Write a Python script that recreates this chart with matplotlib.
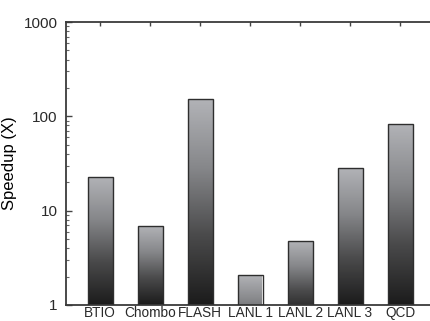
import numpy as np
import matplotlib
matplotlib.use("Agg")
import matplotlib.pyplot as plt
from matplotlib.colors import LinearSegmentedColormap

apps = ["BTIO", "Chombo", "FLASH", "LANL 1", "LANL 2", "LANL 3", "QCD"]
speedup = [22.8, 6.9, 151, 2.07, 4.75, 28.4, 83]

plt.rcParams['font.family'] = ['Liberation Sans', 'DejaVu Sans']
plt.rcParams['text.color'] = '#2a2a2a'
plt.rcParams['xtick.labelcolor'] = '#2a2a2a'
plt.rcParams['ytick.labelcolor'] = '#2a2a2a'

fig = plt.figure(figsize=(4.30, 3.21), dpi=100)
ax = fig.add_axes([66 / 430, 16 / 321, 364 / 430, 283 / 321])
ax.set_yscale('log')

# gradient bars: light at top, dark toward the bottom
cmap = LinearSegmentedColormap.from_list('g', ['#b2b3b7', '#86878a', '#4a4a4b', '#1c1c1c'])
width = 0.5
x = np.arange(len(apps))
heights = [v - 1 for v in speedup]
bars = ax.bar(x, heights, width=width, bottom=1, facecolor='none',
              edgecolor='#2e2e2e', linewidth=1.0, zorder=3)
for xi, v, b in zip(x, speedup, bars):
    top = np.log10(v)
    ys = np.linspace(1, v, 3000)
    depth = (top - np.log10(ys)) / max(top, 0.8)
    img = depth[::-1].reshape(-1, 1)
    im = ax.imshow(img, cmap=cmap, vmin=0, vmax=1, aspect='auto',
                   extent=(xi - width / 2, xi + width / 2, 1, v),
                   origin='upper', interpolation='bilinear', zorder=2)
    im.set_clip_path(b)
ax.set_xlim(-0.68, 6.6)
ax.set_ylim(1, 1000)

ax.set_xticks(x)
ax.set_xticklabels(apps, fontsize=9.8)
ax.set_yticks([1, 10, 100, 1000])
ax.set_yticklabels(["1", "10", "100", "1000"], fontsize=11)
ax.tick_params(axis='x', top=True, bottom=False, direction='in', length=3,
               width=1, color='#444444', pad=1)
ax.tick_params(axis='y', which='major', direction='in', length=4, width=1,
               color='#444444', pad=6)
ax.tick_params(axis='y', which='minor', direction='in', length=2, width=0.8,
               color='#666666')
ax.set_ylabel("Speedup (X)", fontsize=12, labelpad=5)

ax.spines['right'].set_visible(False)
for s in ['left', 'top', 'bottom']:
    ax.spines[s].set_color('#3a3a3a')
    ax.spines[s].set_linewidth(1.3)

fig.savefig("out.png", dpi=100)
